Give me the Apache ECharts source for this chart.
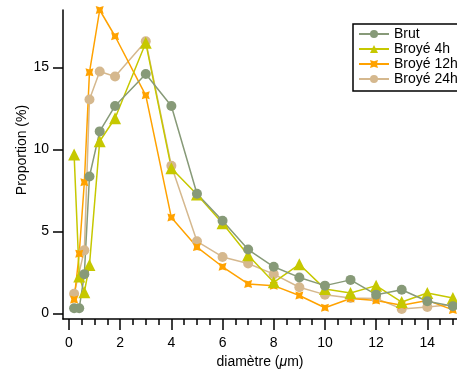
<!DOCTYPE html>
<html>
<head>
<meta charset="utf-8">
<script src="https://cdn.jsdelivr.net/npm/echarts@6/dist/echarts.min.js"></script>
<style>
html,body{margin:0;padding:0;background:#fff;width:457px;height:374px;overflow:hidden;}
#chart{position:absolute;left:0;top:0;width:457px;height:374px;}
</style>
</head>
<body>
<div id="chart"></div>
<script>
// ---- data ----
const seriesNames = ['Brut', 'Broyé 4h', 'Broyé 12h', 'Broyé 24h'];
const xBrut = [0.2,0.4,0.6,0.8,1.2,1.8,3,4,5,6,7,8,9,10,11,12,13,14,15];
const yBrut = [0.32,0.32,2.4,8.35,11.1,12.65,14.6,12.65,7.3,5.65,3.9,2.85,2.2,1.7,2.05,1.15,1.45,0.75,0.45];
const x4h = [0.2,0.4,0.6,0.8,1.2,1.8,3,4,5,6,7,8,9,10,11,12,13,14,15];
const y4h = [9.7,2.25,1.3,2.95,10.5,11.9,16.5,8.85,7.25,5.5,3.55,1.9,3.0,1.5,1.25,1.7,0.7,1.25,0.95];
const x12h = [0.2,0.4,0.6,0.8,1.2,1.8,3,4,5,6,7,8,9,10,11,12,13,14,15];
const y12h = [0.85,3.65,8.0,14.7,18.5,16.9,13.3,5.85,4.05,2.85,1.8,1.7,1.1,0.35,0.92,0.8,0.5,0.8,0.22];
const x24h = [0.2,0.6,0.8,1.2,1.8,3,4,5,6,7,8,9,10,11,12,13,14,15];
const y24h = [1.2,3.85,13.05,14.75,14.45,16.6,9.0,4.4,3.45,3.05,2.4,1.6,1.15,0.95,0.92,0.28,0.4,0.55];
const xTicks = [0,2,4,6,8,10,12,14];
const xMinorTicks = [0.5,1,1.5,2.5,3,3.5,4.5,5,5.5,6.5,7,7.5,8.5,9,9.5,10.5,11,11.5,12.5,13,13.5,14.5,15];
const yTicks = [0,5,10,15];

const colors = {brut:'#879a78', h4:'#c6c800', h12:'#ffa200', h24:'#d5b88e'};
const FONT = '"Liberation Sans", Arial, Helvetica, sans-serif';

function pairs(xs, ys){ return xs.map((x,i)=>[x, ys[i]]); }

const starPath = 'path://M0,0 L5,1.5 L10,0 L8.5,5 L10,10 L5,8.5 L0,10 L1.5,5 Z';

const chart = echarts.init(document.getElementById('chart'), null, {renderer:'canvas', width:457, height:374});
const XMIN = -0.234, XMAX = 15.16, YMIN = -0.34, YMAX = 18.5;

chart.setOption({
  animation: false,
  textStyle: {fontFamily: FONT},
  grid: {left: 63, right: 0, top: 10, height: 315, containLabel: false},
  xAxis: [{
    type: 'value', min: XMIN, max: XMAX,
    axisLine: {show: true, onZero: false, lineStyle: {color: '#000', width: 1.5}},
    axisTick: {show: true, inside: false, length: 11, customValues: xTicks, lineStyle: {color: '#000', width: 1.5}},
    axisLabel: {show: true, customValues: xTicks, margin: 17, fontSize: 14, color: '#000', fontFamily: FONT},
    splitLine: {show: false},
    name: 'diamètre ({i|μ}m)',
    nameLocation: 'middle', nameGap: 34,
    nameTextStyle: {fontSize: 14, color: '#000', fontFamily: FONT,
      rich: {i: {fontStyle: 'italic', fontSize: 14, color: '#000', fontFamily: FONT}}}
  }, {
    type: 'value', min: XMIN, max: XMAX, position: 'bottom',
    axisLine: {show: false, onZero: false},
    axisTick: {show: true, inside: false, length: 6, customValues: xMinorTicks, lineStyle: {color: '#000', width: 1.5}},
    axisLabel: {show: false},
    splitLine: {show: false}
  }],
  yAxis: {
    type: 'value', min: YMIN, max: YMAX,
    axisLine: {show: true, onZero: false, lineStyle: {color: '#000', width: 1.5}},
    axisTick: {show: true, inside: false, length: 10, customValues: yTicks, lineStyle: {color: '#000', width: 1.5}},
    axisLabel: {show: true, customValues: yTicks, margin: 14, fontSize: 14, color: '#000', fontFamily: FONT},
    splitLine: {show: false}
  },
  graphic: [{
    type: 'text', x: 22, y: 150, rotation: Math.PI/2,
    style: {text: 'Proportion (%)', font: '14px ' + FONT, fill: '#000', align: 'center', verticalAlign: 'middle'}
  }],
  legend: {
    orient: 'vertical', left: 353, top: 24,
    data: seriesNames,
    itemWidth: 30, itemHeight: 10, itemGap: 1,
    padding: [3, 12, 5, 5],
    borderColor: '#000', borderWidth: 1.5,
    textStyle: {fontSize: 14, lineHeight: 14, color: '#000', fontFamily: FONT}
  },
  series: [
    {name: 'Broyé 24h', type: 'line', data: pairs(x24h, y24h), color: colors.h24,
     symbol: 'circle', symbolSize: 10, lineStyle: {width: 1.5}, itemStyle: {color: colors.h24}},
    {name: 'Broyé 12h', type: 'line', data: pairs(x12h, y12h), color: colors.h12,
     symbol: starPath, symbolSize: 8, lineStyle: {width: 1.5}, itemStyle: {color: colors.h12}},
    {name: 'Broyé 4h', type: 'line', data: pairs(x4h, y4h), color: colors.h4,
     symbol: 'triangle', symbolSize: 12, lineStyle: {width: 1.5}, itemStyle: {color: colors.h4}},
    {name: 'Brut', type: 'line', data: pairs(xBrut, yBrut), color: colors.brut,
     symbol: 'circle', symbolSize: 10, lineStyle: {width: 1.5}, itemStyle: {color: colors.brut}}
  ]
});
</script>
</body>
</html>
